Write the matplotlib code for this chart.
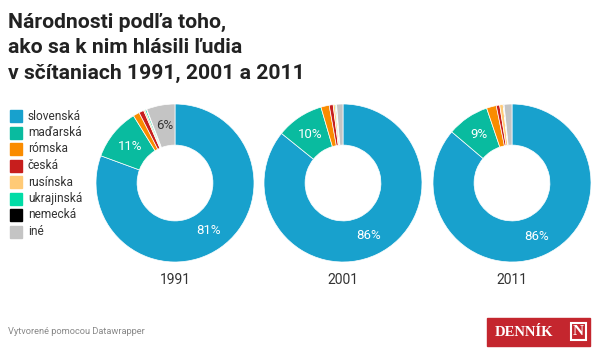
import matplotlib.pyplot as plt
import numpy as np
from matplotlib.patches import Rectangle

# data
nationalities = ["slovenská", "maďarská", "rómska", "česká", "rusínska",
                 "ukrajinská", "nemecká", "iné"]
colors = ["#18a1cd", "#09bb9f", "#fa8c00", "#c71e1d", "#ffca76",
          "#00dca6", "#000000", "#c4c4c4"]
years = ["1991", "2001", "2011"]
share_1991 = [80.6, 10.6, 1.3, 1.0, 0.3, 0.3, 0.1, 5.8]
share_2001 = [85.8, 9.7, 1.7, 0.8, 0.4, 0.2, 0.1, 1.3]
share_2011 = [86.2, 8.6, 2.0, 0.7, 0.7, 0.1, 0.1, 1.6]
shares = [share_1991, share_2001, share_2011]

W, H = 600, 358
fig = plt.figure(figsize=(W / 100, H / 100), dpi=100)
plt.rcParams['font.family'] = ['Roboto', 'DejaVu Sans']

def px_axes(x0, y0, w, h):
    # pixel box (top-left origin) -> figure axes
    return fig.add_axes([x0 / W, 1 - (y0 + h) / H, w / W, h / H])

# title
title_lines = ["Národnosti podľa toho,", "ako sa k nim hlásili ľudia",
               "v sčítaniach 1991, 2001 a 2011"]
for i, line in enumerate(title_lines):
    fig.text(8 / W, 1 - (22 + i * 25.5) / H, line, fontsize=15.2,
             fontweight="bold", color="#222222", va="center", ha="left")

# legend
for i, (name, c) in enumerate(zip(nationalities, colors)):
    y = 116 + i * 16.5
    fig.patches.append(Rectangle((10 / W, 1 - (y + 6) / H), 12 / W, 12 / H,
                                 transform=fig.transFigure, color=c))
    fig.text(28 / W, 1 - y / H, name, fontsize=8.6, color="#333333",
             va="center", ha="left")

# donuts
centers_x = [175, 343, 512]
cy, r = 183, 79
hole = 0.48
for cx, vals, yr in zip(centers_x, shares, years):
    ax = px_axes(cx - r, cy - r, 2 * r, 2 * r)
    wedges, _ = ax.pie(vals, colors=colors, startangle=90, counterclock=False,
                       radius=1, wedgeprops=dict(width=1 - hole, edgecolor="white",
                                                 linewidth=0.5))
    ax.set_xlim(-1, 1)
    ax.set_ylim(-1, 1)
    ax.set_aspect("equal")
    ax.axis("off")
    total = sum(vals)
    for w, v, name in zip(wedges, vals, nationalities):
        pct = v / total * 100
        if pct < 5:
            continue
        ang = np.deg2rad((w.theta1 + w.theta2) / 2)
        rr = (1 + hole) / 2
        tc = "#333333" if name == "iné" else "white"
        ax.text(rr * np.cos(ang), rr * np.sin(ang), f"{pct:.0f}%",
                ha="center", va="center", fontsize=9.5, color=tc)
    fig.text(cx / W, 1 - 280 / H, yr, ha="center", va="center", fontsize=10,
             color="#333333")

# footer
fig.text(8 / W, 1 - 332 / H, "Vytvorené pomocou Datawrapper", fontsize=6.7,
         color="#888888", va="center", ha="left")

lx, ly, lw, lh = 487, 318, 103, 28
fig.patches.append(Rectangle((lx / W, 1 - (ly + lh) / H), lw / W, lh / H,
                             transform=fig.transFigure, color="#c4262e"))
fig.text((lx + 8) / W, 1 - (ly + lh / 2) / H, "DENNÍK", family="Liberation Serif",
         fontweight="bold", fontsize=10.5, color="white", va="center", ha="left")
fig.patches.append(Rectangle((571 / W, 1 - 340 / H), 15 / W, 17 / H,
                             transform=fig.transFigure, fill=False,
                             edgecolor="white", linewidth=1.5))
fig.text(578.5 / W, 1 - 331.5 / H, "N", family="Liberation Serif",
         fontweight="bold", fontsize=11, color="white", va="center", ha="center")

fig.savefig("out.png", dpi=100)
